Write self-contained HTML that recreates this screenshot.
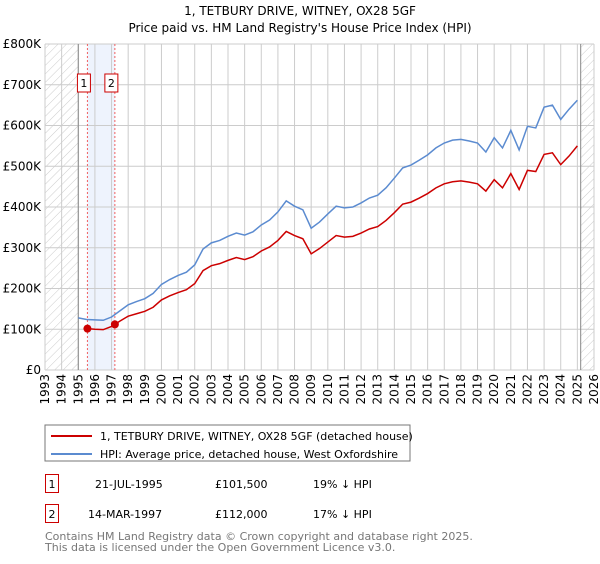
<!DOCTYPE html>
<html><head><meta charset="utf-8"><style>
body{margin:0;background:#fff;font-family:"DejaVu Sans","Liberation Sans",sans-serif;}
svg text{font-family:"DejaVu Sans","Liberation Sans",sans-serif;}
</style></head><body>
<svg id="c" width="600" height="560" xmlns="http://www.w3.org/2000/svg">
<defs><pattern id="h" width="6" height="6" patternUnits="userSpaceOnUse" patternTransform="rotate(45)"><line x1="0" y1="0" x2="0" y2="6" stroke="#ccc" stroke-width="1"/></pattern></defs>
<text x="300" y="15" text-anchor="middle" font-size="12">1, TETBURY DRIVE, WITNEY, OX28 5GF</text>
<text x="300" y="32" text-anchor="middle" font-size="12">Price paid vs. HM Land Registry's House Price Index (HPI)</text>
<g id="grid"></g><g id="marks"></g><g id="axes"></g>
<rect x="45" y="425" width="365" height="36" fill="#fff" stroke="#777"/>
<line x1="51" y1="436" x2="92" y2="436" stroke="#cc0000" stroke-width="2"/>
<text x="100" y="440" font-size="11">1, TETBURY DRIVE, WITNEY, OX28 5GF (detached house)</text>
<line x1="51" y1="454" x2="92" y2="454" stroke="#5b8bd0" stroke-width="2"/>
<text x="100" y="458" font-size="11">HPI: Average price, detached house, West Oxfordshire</text>
<g>
<rect x="45.5" y="474.5" width="13" height="18" fill="none" stroke="#cc0000"/><text x="52" y="488" text-anchor="middle" font-size="11">1</text>
<text x="95" y="488" font-size="11">21-JUL-1995</text><text x="215" y="488" font-size="11">£101,500</text><text x="313" y="488" font-size="11">19% ↓ HPI</text></g>
<g>
<rect x="45.5" y="504.5" width="13" height="18" fill="none" stroke="#cc0000"/><text x="52" y="518" text-anchor="middle" font-size="11">2</text>
<text x="88" y="518" font-size="11">14-MAR-1997</text><text x="215" y="518" font-size="11">£112,000</text><text x="313" y="518" font-size="11">17% ↓ HPI</text></g>
<text x="45" y="540" font-size="11" fill="#777">Contains HM Land Registry data © Crown copyright and database right 2025.</text>
<text x="45" y="551" font-size="11" fill="#777">This data is licensed under the Open Government Licence v3.0.</text>
</svg>
<script>
const yearTicks=[1993,1994,1995,1996,1997,1998,1999,2000,2001,2002,2003,2004,2005,2006,2007,2008,2009,2010,2011,2012,2013,2014,2015,2016,2017,2018,2019,2020,2021,2022,2023,2024,2025,2026];
const valueTicks=[0,100,200,300,400,500,600,700,800];
const valueTickLabels=["£0","£100K","£200K","£300K","£400K","£500K","£600K","£700K","£800K"];
const hpiYears=[1995,1995.5,1996,1996.5,1997,1997.5,1998,1998.5,1999,1999.5,2000,2000.5,2001,2001.5,2002,2002.5,2003,2003.5,2004,2004.5,2005,2005.5,2006,2006.5,2007,2007.5,2008,2008.5,2009,2009.5,2010,2010.5,2011,2011.5,2012,2012.5,2013,2013.5,2014,2014.5,2015,2015.5,2016,2016.5,2017,2017.5,2018,2018.5,2019,2019.5,2020,2020.5,2021,2021.5,2022,2022.5,2023,2023.5,2024,2024.5,2025];
const hpiValues=[128,124,123,122,130,145,160,168,175,188,210,222,232,240,258,297,312,318,328,336,331,339,356,368,388,415,402,393,348,363,383,402,398,400,410,422,429,447,471,496,503,515,528,545,557,564,566,562,557,535,570,545,588,540,598,594,645,650,615,640,662];
const priceYears=[1995.55,1996,1996.5,1997,1997.5,1998,1998.5,1999,1999.5,2000,2000.5,2001,2001.5,2002,2002.5,2003,2003.5,2004,2004.5,2005,2005.5,2006,2006.5,2007,2007.5,2008,2008.5,2009,2009.5,2010,2010.5,2011,2011.5,2012,2012.5,2013,2013.5,2014,2014.5,2015,2015.5,2016,2016.5,2017,2017.5,2018,2018.5,2019,2019.5,2020,2020.5,2021,2021.5,2022,2022.5,2023,2023.5,2024,2024.5,2025];
const priceValues=[101.5,100,99,107,120,132,138,144,154,172,182,190,197,212,244,256,261,269,276,271,278,292,302,318,340,330,322,285,298,314,330,326,328,336,346,352,367,386,407,412,422,433,447,457,462,464,461,457,439,467,447,482,443,490,487,529,533,504,525,550];
const saleYears=[1995.55,1997.2];
const saleValues=[101.5,112];
const saleLabels=["1","2"];
const dataStart=1995, dataEnd=2025.2;

const X0=45,X1=594,Y0=370,Y1=44;
const x=t=>X0+(t-1993)/(2026-1993)*(X1-X0);
const y=v=>Y0-v/800*(Y0-Y1);
const NS="http://www.w3.org/2000/svg";
function mk(tag,parent,attrs){const e=document.createElementNS(NS,tag);for(const k in attrs)e.setAttribute(k,attrs[k]);document.getElementById(parent).appendChild(e);return e;}
let e;
e=mk('rect','grid',{x:X0,y:Y1,width:x(dataStart)-X0,height:Y0-Y1,fill:'url(#h)'});


e=mk('rect','grid',{x:x(dataEnd),y:Y1,width:X1-x(dataEnd),height:Y0-Y1,fill:'url(#h)'});


e=mk('rect','grid',{x:x(saleYears[0]),y:Y1,width:x(saleYears[1])-x(saleYears[0]),height:Y0-Y1,fill:'#eef3fd'});


yearTicks.forEach(t=>{
 e=mk('line','grid',{x1:x(t),x2:x(t),y1:Y1,y2:Y0,stroke:'#ccc','stroke-width':1});
 
 
 e=mk('text','axes',{x:0,y:0,'font-size':12,'text-anchor':'end',transform:`translate(${x(t)+4},374) rotate(-90)`});
 e.textContent=t;
 
 
});
valueTicks.forEach((v,i)=>{
 e=mk('line','grid',{x1:X0,x2:X1,y1:y(v),y2:y(v),stroke:'#ccc','stroke-width':1});
 
 
 e=mk('text','axes',{x:41,y:y(v)+4,'font-size':12,'text-anchor':'end'});
 e.textContent=valueTickLabels[i];
 
 
});
[dataStart,dataEnd].forEach(t=>{
 e=mk('line','grid',{x1:x(t),x2:x(t),y1:Y1,y2:Y0,stroke:'#888','stroke-width':1});
 
 
});
saleYears.forEach((t,i)=>{
 e=mk('line','grid',{x1:x(t),x2:x(t),y1:Y1,y2:Y0,stroke:'#f06060','stroke-width':1,'stroke-dasharray':'2,2'});
 
 
 e=mk('rect','axes',{x:x(t)-10,y:74,width:13,height:18,fill:'#fff',stroke:'#cc0000'});
 
 
 e=mk('text','axes',{x:x(t)-3.5,y:87,'font-size':11,'text-anchor':'middle'});
 e.textContent=saleLabels[i];
 
 
});
e=mk('polyline','marks',{points:hpiYears.map((t,i)=>x(t)+','+y(hpiValues[i])).join(' '),fill:'none',stroke:'#5b8bd0','stroke-width':1.5});


e=mk('polyline','marks',{points:priceYears.map((t,i)=>x(t)+','+y(priceValues[i])).join(' '),fill:'none',stroke:'#cc0000','stroke-width':1.5});


saleYears.forEach((t,i)=>{
 e=mk('circle','marks',{cx:x(t),cy:y(saleValues[i]),r:4,fill:'#cc0000'});
 
 
});
</script>
</body></html>
